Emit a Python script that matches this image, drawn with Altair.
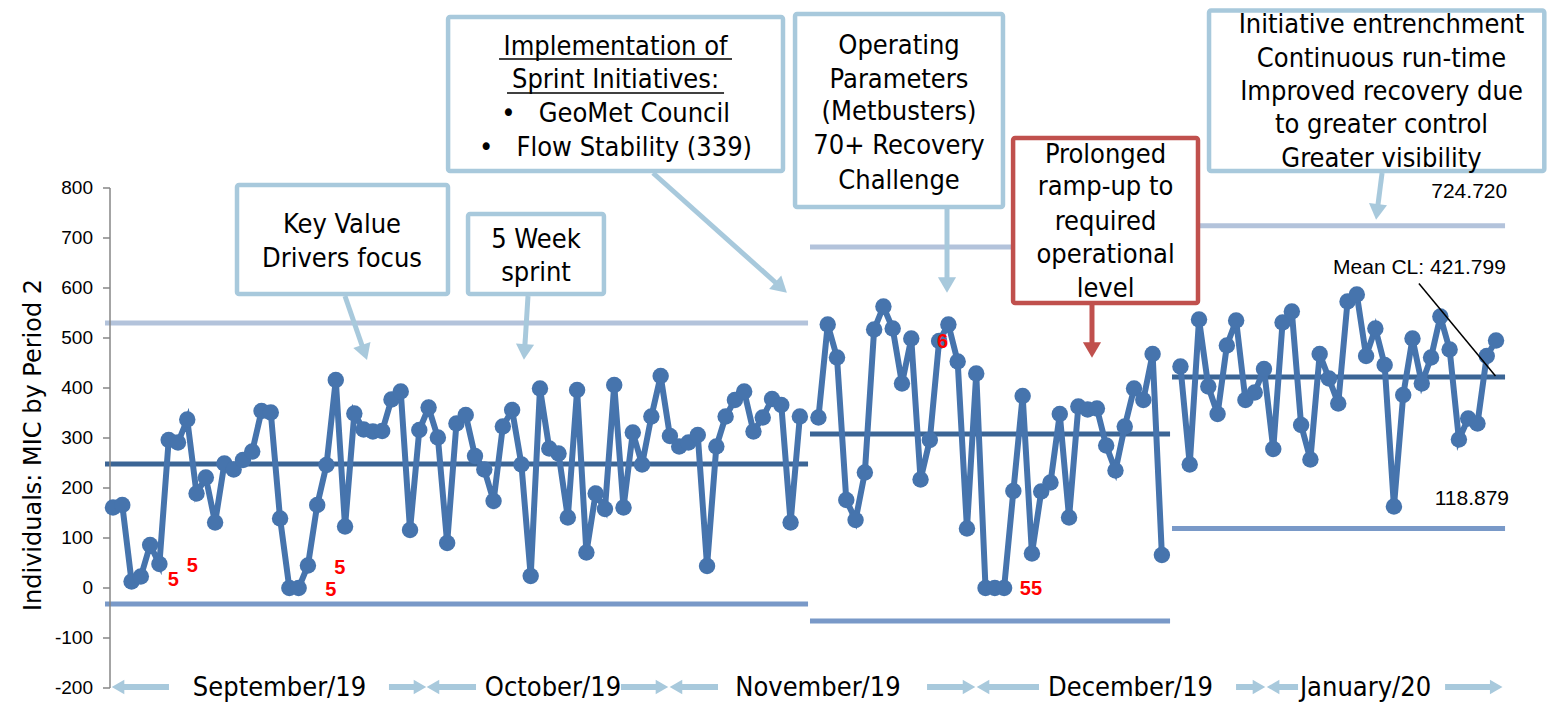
import altair as alt
import pandas as pd

# ---------------- data ----------------
phase_starts = [1, 77, 116]          # sample number of first point in each stage
phase1_values = [161, 166, 13, 23, 86, 48, 296, 291, 337, 189,
                 221, 131, 249, 237, 256, 273, 354, 351, 139, 0,
                 0, 45, 166, 246, 416, 123, 349, 317, 313, 314,
                 377, 393, 116, 316, 361, 301, 90, 329, 346, 264,
                 237, 174, 323, 356, 247, 24, 399, 279, 269, 141,
                 396, 71, 189, 158, 406, 161, 311, 247, 343, 424,
                 304, 283, 291, 306, 44, 283, 343, 376, 393, 313,
                 341, 378, 366, 131, 343]
phase2_values = [341, 527, 461, 176, 136, 231, 517, 563, 519, 409,
                 499, 217, 296, 494, 527, 453, 119, 429, 0, 0,
                 0, 194, 384, 69, 193, 211, 348, 141, 363, 357,
                 359, 285, 235, 323, 399, 376, 468, 66]
phase3_values = [443, 247, 537, 403, 348, 485, 535, 376, 391, 438,
                 278, 531, 553, 326, 257, 468, 419, 369, 573, 587,
                 464, 519, 446, 163, 386, 499, 409, 461, 543, 477,
                 297, 339, 329, 464, 495]

# control limits per stage
stage_from = [0.14, 76.09, 115.09]
stage_to = [75.88, 114.88, 150.97]
ucl = [530, 682, 724.720]
center = [248, 308, 421.799]
lcl = [-32, -66, 118.879]

y_ticks = list(range(-200, 801, 100))
y_title = "Individuals: MIC by Period 2"

months = ["September/19", "October/19", "November/19", "December/19", "January/20"]
month_x = [18.94, 48.40, 76.95, 110.62, 135.94]

# test-failure labels (Minitab style)
flag_text = ["5", "5", "5", "5", "6", "55"]
flag_x = [7.49, 9.54, 25.43, 24.47, 90.37, 99.89]
flag_y = [17, 45, 41, -3, 493, -1]

# ---------------- tables ----------------
rows = []
for start, vals, ph in zip(phase_starts, [phase1_values, phase2_values, phase3_values], ["A", "B", "C"]):
    for k, v in enumerate(vals):
        rows.append({"i": start + k, "v": v, "phase": ph})
df = pd.DataFrame(rows)

lim_rows = []
for a, b, u, c, l in zip(stage_from, stage_to, ucl, center, lcl):
    lim_rows.append({"x": a, "x2": b, "y": u, "kind": "ucl"})
    lim_rows.append({"x": a, "x2": b, "y": c, "kind": "cl"})
    lim_rows.append({"x": a, "x2": b, "y": l, "kind": "lcl"})
lim_df = pd.DataFrame(lim_rows)

BLUE = "#a8c9dc"
RED = "#c0504d"

boxes = pd.DataFrame({
    "x": [14.36, 39.25, 37.10, 74.48, 97.97, 119.08],
    "x2": [37.09, 53.89, 73.18, 96.88, 117.89, 155.2],
    "y": [806, 748, 1142, 1148, 900, 1155],
    "y2": [588, 588, 834, 762, 570, 834],
    "c": [BLUE, BLUE, BLUE, BLUE, RED, BLUE],
})

NB = "\u00a0"
box_lines = [
    (25.67, 710, "Key Value"), (25.67, 642, "Drivers focus"),
    (46.57, 680, "5 Week"), (46.57, 614, "sprint"),
    (55.14, 1066, "Implementation of"), (55.14, 1000, "Sprint Initiatives:"),
    (55.14, 932, "•" + NB * 3 + "GeoMet Council"), (55.14, 864, "•" + NB * 3 + "Flow Stability (339)"),
    (85.68, 1069, "Operating"), (85.68, 1001, "Parameters"), (85.68, 936, "(Metbusters)"),
    (85.68, 868, "70+ Recovery"), (85.68, 799, "Challenge"),
    (107.93, 850, "Prolonged"), (107.93, 786, "ramp-up to"), (107.93, 716, "required"),
    (107.93, 650, "operational"), (107.93, 582, "level"),
    (137.66, 1110, "Initiative entrenchment"), (137.66, 1042, "Continuous run-time"),
    (137.66, 976, "Improved recovery due"), (137.66, 910, "to greater control"),
    (137.66, 842, "Greater visibility"),
]
box_text = pd.DataFrame(box_lines, columns=["x", "y", "t"])

underl = pd.DataFrame({"x": [42.59, 43.45], "x2": [67.69, 66.83], "y": [1058, 990]})

arrows = pd.DataFrame({
    "x": [25.99, 45.71, 59.18, 90.85, 106.47, 137.72],
    "y": [584, 584, 830, 758, 566, 830],
    "hx": [28.09, 45.33, 72.97, 90.85, 106.47, 137.18],
    "hy": [471, 472, 601, 606, 476, 752],
    "a": [161, 184, 132, 180, 180, 187],
    "c": [BLUE, BLUE, BLUE, BLUE, RED, BLUE],
})

marrows = pd.DataFrame({
    "x": [7.03, 30.73, 40.11, 55.73, 66.18, 88.70, 100.76, 121.99, 128.67, 144.51],
    "hx": [1.54, 34.07, 35.47, 60.14, 61.65, 93.22, 94.73, 124.46, 125.98, 150.02],
    "a": [270, 90, 270, 90, 270, 90, 270, 90, 270, 90],
})
marrows["y"] = -198

month_df = pd.DataFrame({"x": month_x, "t": months})
month_df["y"] = -216

flags = pd.DataFrame({"x": flag_x, "y": flag_y, "t": flag_text})

limit_labels = pd.DataFrame({
    "x": [151.2, 151.06, 151.4],
    "y": [792, 640, 179],
    "t": ["724.720", "Mean CL: 421.799", "118.879"],
})
leader = pd.DataFrame({"x": [141.69], "y": [609], "x2": [149.94], "y2": [424]})
axis_line = pd.DataFrame({"y": [y_ticks[0]], "y2": [y_ticks[-1]]})
tick_df = pd.DataFrame({"t": y_ticks, "lab": [str(t) for t in y_ticks]})
title_df = pd.DataFrame({"y": [(y_ticks[0] + y_ticks[-1]) / 2 - 14], "t": [y_title]})

# ---------------- scales ----------------
xs = alt.Scale(domain=[0.677, 155.49], nice=False, zero=False)
ys = alt.Scale(domain=[-232, 1160], nice=False, zero=False)


def X(f):
    return alt.X(f, type="quantitative", scale=xs, axis=None)


def Y(f):
    return alt.Y(f, type="quantitative", scale=ys, axis=None)


TFONT = "DejaVu Sans Condensed, DejaVu Sans"
PTS = "#4674ad"

limits = alt.Chart(lim_df).mark_rule(strokeWidth=5).encode(
    x=X("x"), x2="x2", y=Y("y"),
    color=alt.Color("kind:N", scale=alt.Scale(domain=["ucl", "cl", "lcl"],
                                              range=["#b3c3db", "#3b6595", "#7999c8"]), legend=None),
)

# y axis drawn from layers (line, ticks, labels, title)
ax_line = alt.Chart(axis_line).mark_rule(strokeWidth=1.5, color="#868686").encode(
    x=alt.value(0), y=Y("y"), y2="y2")
ax_ticks = alt.Chart(tick_df).mark_rule(strokeWidth=1.5, color="#868686").encode(
    x=alt.value(-7), x2=alt.value(0), y=Y("t"))
ax_labels = alt.Chart(tick_df).mark_text(font="Liberation Sans", fontSize=19, align="right",
                                         baseline="middle", color="#000000").encode(
    x=alt.value(-17), y=Y("t"), text="lab:N")
ax_title = alt.Chart(title_df).mark_text(font="DejaVu Sans", fontSize=24, align="center",
                                         baseline="middle", angle=270, color="#000000").encode(
    x=alt.value(-76), y=Y("y"), text="t:N")

line = alt.Chart(df).mark_line(strokeWidth=6, color=PTS).encode(
    x=X("i"), y=Y("v"), detail="phase:N",
)
pts = alt.Chart(df).mark_circle(size=270, opacity=1, color=PTS).encode(
    x=X("i"), y=Y("v"),
)

flag_layer = alt.Chart(flags).mark_text(color="#ff0000", font="Liberation Sans", fontSize=20,
                                        fontWeight="bold", align="center", baseline="middle").encode(
    x=X("x"), y=Y("y"), text="t:N")

box_layer = alt.Chart(boxes).mark_rect(fill="white", strokeWidth=4.5, cornerRadius=2).encode(
    x=X("x"), x2="x2", y=Y("y"), y2="y2", stroke=alt.Stroke("c:N", scale=None))

box_txt = alt.Chart(box_text).mark_text(font=TFONT, fontSize=27, align="center",
                                        baseline="alphabetic", color="#000000").encode(
    x=X("x"), y=Y("y"), text="t:N")

ul = alt.Chart(underl).mark_rule(strokeWidth=1.6, color="#000000").encode(
    x=X("x"), x2="x2", y=Y("y"))

shafts = alt.Chart(arrows).mark_rule(strokeWidth=5).encode(
    x=X("x"), y=Y("y"), x2="hx", y2="hy", color=alt.Color("c:N", scale=None))
heads = alt.Chart(arrows).mark_point(shape="triangle-up", filled=True, opacity=1, size=330).encode(
    x=X("hx"), y=Y("hy"), angle=alt.Angle("a:Q", scale=None), color=alt.Color("c:N", scale=None))

mshafts = alt.Chart(marrows).mark_rule(strokeWidth=6, color=BLUE).encode(
    x=X("x"), x2="hx", y=Y("y"))
mheads = alt.Chart(marrows).mark_point(shape="triangle-up", filled=True, opacity=1, size=210,
                                       color=BLUE).encode(
    x=X("hx"), y=Y("y"), angle=alt.Angle("a:Q", scale=None))

month_txt = alt.Chart(month_df).mark_text(font=TFONT, fontSize=27, align="center",
                                          baseline="alphabetic", color="#000000").encode(
    x=X("x"), y=Y("y"), text="t:N")

lim_txt = alt.Chart(limit_labels).mark_text(font="Liberation Sans", fontSize=21, align="right",
                                            baseline="middle", color="#000000").encode(
    x=X("x"), y=Y("y"), text="t:N")

lead = alt.Chart(leader).mark_rule(strokeWidth=1.5, color="#000000").encode(
    x=X("x"), y=Y("y"), x2="x2", y2="y2")

chart = alt.layer(
    limits, ax_line, ax_ticks, ax_labels, ax_title, line, pts, flag_layer, box_layer, box_txt,
    ul, shafts, heads, mshafts, mheads, month_txt, lim_txt, lead,
).properties(
    width=1437, height=696,
    autosize=alt.AutoSizeParams(type="none"),
    padding={"left": 102, "top": 0, "right": 0, "bottom": 0},
).configure_view(stroke=None)

chart.save("out.html", embed_options={"renderer": "svg", "actions": False})
